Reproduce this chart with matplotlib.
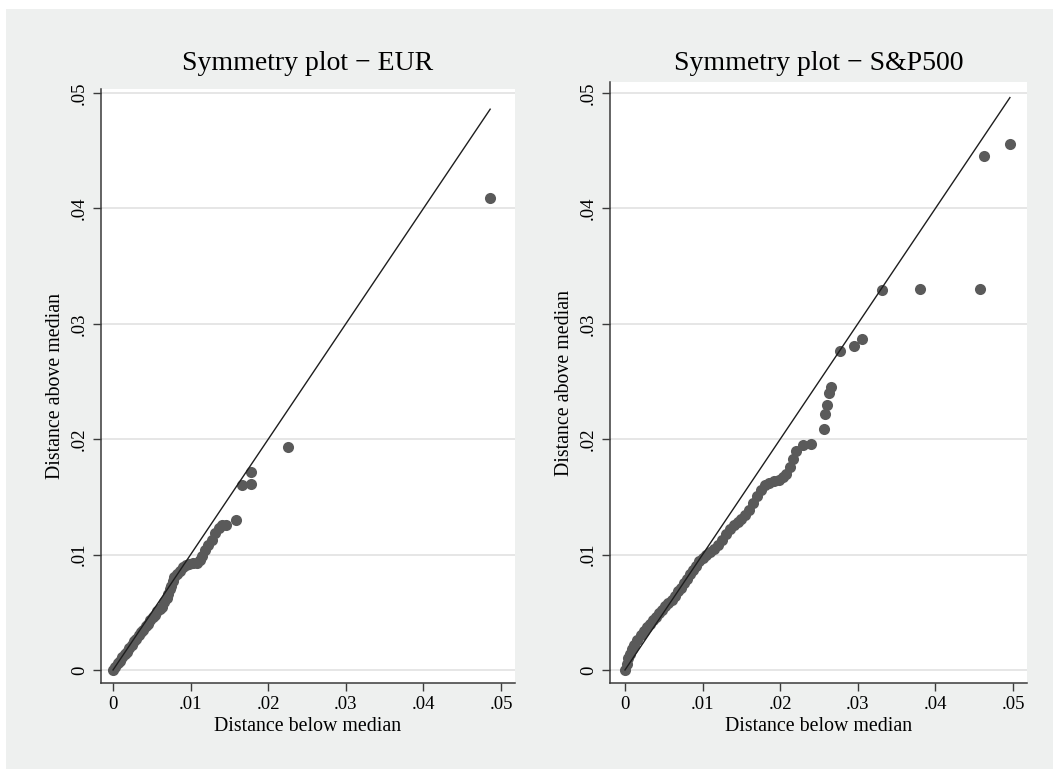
import numpy as np
import matplotlib
matplotlib.use("Agg")
import matplotlib.pyplot as plt
from matplotlib.patches import Rectangle
from matplotlib.ticker import FuncFormatter

plt.rcParams['font.family'] = ['Liberation Serif', 'DejaVu Serif']

# distance below / above the median, EUR returns
eur_below = [0.0000, 0.0003, 0.0006, 0.0009, 0.0012, 0.0015, 0.0018, 0.0021, 0.0024, 0.0027,
             0.0030, 0.0033, 0.0036, 0.0039, 0.0042, 0.0045, 0.0048, 0.0051, 0.0054, 0.0057,
             0.0060, 0.0063, 0.0066, 0.0069, 0.0071, 0.0073, 0.0075, 0.0077, 0.0079, 0.0082,
             0.0086, 0.0090, 0.0094, 0.0098, 0.0103, 0.0108, 0.0112, 0.0115, 0.0119, 0.0123,
             0.0127, 0.0131, 0.0136, 0.0141, 0.0146, 0.0158, 0.0166, 0.0178, 0.0178, 0.0226,
             0.0486]
eur_above = [0.0000, 0.0003, 0.0006, 0.0008, 0.0011, 0.0014, 0.0016, 0.0019, 0.0022, 0.0025,
             0.0027, 0.0030, 0.0033, 0.0035, 0.0038, 0.0040, 0.0043, 0.0046, 0.0048, 0.0051,
             0.0053, 0.0055, 0.0059, 0.0062, 0.0066, 0.0070, 0.0073, 0.0077, 0.0081, 0.0083,
             0.0086, 0.0089, 0.0091, 0.0092, 0.0093, 0.0093, 0.0095, 0.0099, 0.0104, 0.0108,
             0.0113, 0.0119, 0.0123, 0.0126, 0.0126, 0.0130, 0.0160, 0.0161, 0.0172, 0.0193,
             0.0409]

# distance below / above the median, S&P500 returns
spx_below = [0.0000, 0.0002, 0.0004, 0.0006, 0.0009, 0.0012, 0.0016, 0.0020, 0.0024, 0.0028,
             0.0032, 0.0036, 0.0040, 0.0044, 0.0048, 0.0052, 0.0056, 0.0060, 0.0064, 0.0068,
             0.0072, 0.0076, 0.0080, 0.0084, 0.0088, 0.0092, 0.0096, 0.0100, 0.0105, 0.0110,
             0.0115, 0.0120, 0.0125, 0.0130, 0.0135, 0.0140, 0.0145, 0.0150, 0.0155, 0.0160,
             0.0165, 0.0170, 0.0175, 0.0180, 0.0186, 0.0192, 0.0198, 0.0203, 0.0208, 0.0212,
             0.0216, 0.0220, 0.0230, 0.0240, 0.0256, 0.0258, 0.0260, 0.0263, 0.0266, 0.0277,
             0.0295, 0.0306, 0.0331, 0.0380, 0.0457, 0.0462, 0.0496]
spx_above = [0.0000, 0.0005, 0.0010, 0.0014, 0.0018, 0.0022, 0.0026, 0.0030, 0.0034, 0.0037,
             0.0040, 0.0043, 0.0046, 0.0049, 0.0052, 0.0055, 0.0058, 0.0061, 0.0064, 0.0068,
             0.0071, 0.0075, 0.0079, 0.0083, 0.0087, 0.0090, 0.0094, 0.0097, 0.0100, 0.0102,
             0.0105, 0.0108, 0.0113, 0.0118, 0.0122, 0.0126, 0.0128, 0.0131, 0.0134, 0.0139,
             0.0145, 0.0151, 0.0156, 0.0160, 0.0162, 0.0164, 0.0165, 0.0167, 0.0170, 0.0176,
             0.0183, 0.0190, 0.0195, 0.0196, 0.0209, 0.0222, 0.0230, 0.0240, 0.0245, 0.0276,
             0.0281, 0.0287, 0.0329, 0.0330, 0.0330, 0.0445, 0.0456]

ticks = [0, 0.01, 0.02, 0.03, 0.04, 0.05]

W, H = 1053, 769
fig = plt.figure(figsize=(W / 100, H / 100), dpi=100, facecolor='white')
fig.patches.append(Rectangle((6 / W, 0), 1, (H - 9) / H, transform=fig.transFigure,
                             facecolor='#eef0ef', edgecolor='none', zorder=-10))


def fmt(v, pos):
    return '0' if abs(v) < 1e-9 else ('%.2f' % v).lstrip('0')


def sym_panel(rect, below, above, title, xlim, ylim, tpad):
    ax = fig.add_axes(rect)
    ax.set_facecolor('white')
    ax.plot(below, above, 'o', ms=8, color='#5a5a5a', mew=0, zorder=2)
    m = max(below)
    ax.plot([0, m], [0, m], color='#1e1e1e', lw=1.0, zorder=3)
    ax.set_xlim(*xlim)
    ax.set_ylim(*ylim)
    ax.set_xticks(ticks)
    ax.set_yticks(ticks)
    ax.xaxis.set_major_formatter(FuncFormatter(fmt))
    ax.yaxis.set_major_formatter(FuncFormatter(fmt))
    ax.grid(axis='y', color='#e6e6e6', lw=1.4, zorder=0)
    ax.set_axisbelow(True)
    for s in ['top', 'right']:
        ax.spines[s].set_visible(False)
    for s in ['left', 'bottom']:
        ax.spines[s].set_color('#3a3a3a')
        ax.spines[s].set_linewidth(1.1)
    ax.tick_params(length=5.5, width=1.0, color='#3a3a3a', labelsize=13.5, pad=4)
    ax.tick_params(axis='y', labelrotation=90)
    for lab in ax.get_yticklabels():
        lab.set_va('center')
    ax.set_xlabel('Distance below median', fontsize=14.3, labelpad=3)
    ax.set_ylabel('Distance above median', fontsize=14.3, labelpad=4)
    ax.set_title(title, fontsize=20, pad=tpad)
    return ax


sym_panel([101 / W, 86 / H, 414 / W, 594 / H], eur_below, eur_above,
          'Symmetry plot \u2212 EUR', (-0.00155, 0.0518), (-0.00113, 0.05035), 14)
sym_panel([610 / W, 86 / H, 417 / W, 601 / H], spx_below, spx_above,
          'Symmetry plot \u2212 S&P500', (-0.00193, 0.0518), (-0.00113, 0.05095), 9)

fig.savefig('out.png', dpi=100, facecolor=fig.get_facecolor())
